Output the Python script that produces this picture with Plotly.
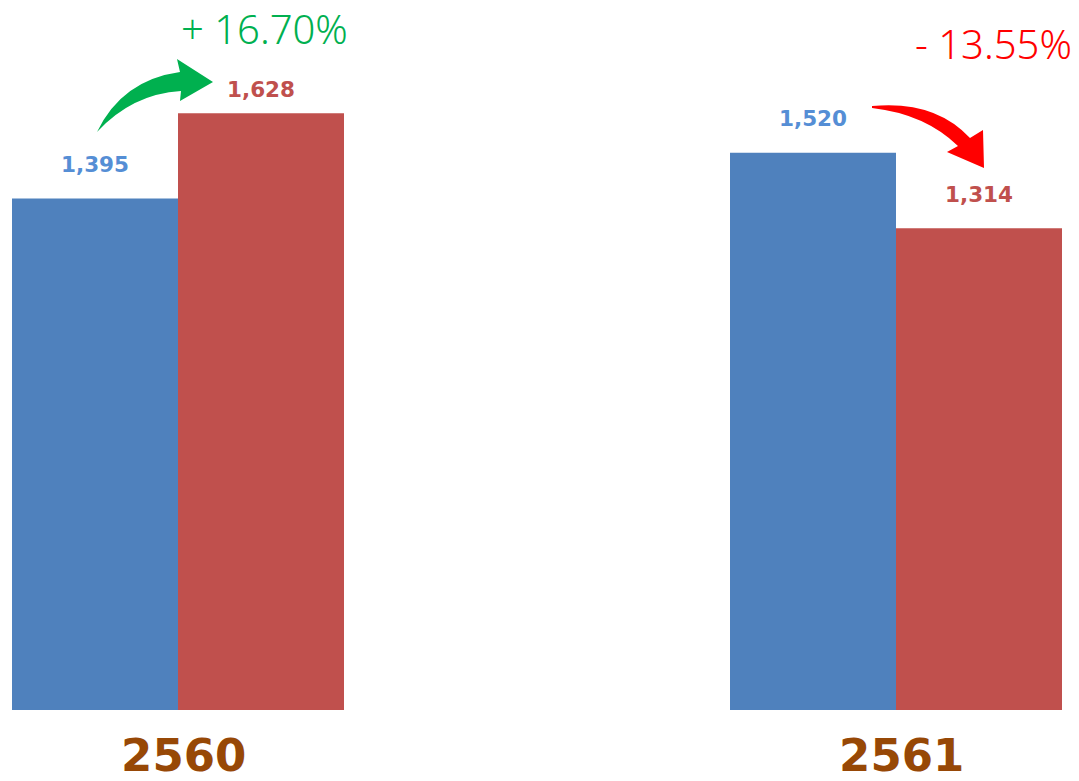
import plotly.graph_objects as go

# ---- data ----
years = ["2560", "2561"]
series_a = [1395, 1520]   # blue
series_b = [1628, 1314]   # red
color_a = "#4F81BD"
color_b = "#C0504D"
label_color_a = "#558ED5"
label_color_b = "#C0504D"
year_color = "#974806"

W, H = 1079, 781
L, R, T, B = 0, 0, 0, 71
PW, PH = W - L - R, H - T - B

# axis geometry (pixels -> data)
group_px = [178, 896]
bar_px = 166
unit_px = group_px[1] - group_px[0]
bw = bar_px / unit_px
x0 = -(group_px[0] - L) / unit_px
x1 = x0 + PW / unit_px
ymax = PH / 0.3666

xs = list(range(len(years)))

fig = go.Figure()
fig.add_trace(go.Bar(x=xs, y=series_a, width=bw, offset=-bw, marker_color=color_a,
                     marker_line_width=0, hoverinfo="skip"))
fig.add_trace(go.Bar(x=xs, y=series_b, width=bw, offset=0, marker_color=color_b,
                     marker_line_width=0, hoverinfo="skip"))

# value labels
shifts_a = [34, 34]
shifts_b = [24, 34]
for i in xs:
    fig.add_annotation(x=i - bw / 2, y=series_a[i], text=f"{series_a[i]:,}", showarrow=False,
                       yshift=shifts_a[i], yanchor="middle",
                       font=dict(family="DejaVu Sans", size=21.5, color=label_color_a, weight="bold"))
    fig.add_annotation(x=i + bw / 2, y=series_b[i], text=f"{series_b[i]:,}", showarrow=False,
                       yshift=shifts_b[i], yanchor="middle",
                       font=dict(family="DejaVu Sans", size=21.5, color=label_color_b, weight="bold"))

# percent change annotations
def px2paper(px, py):
    return (px - L) / PW, 1 - (py - T) / PH

pct_pos = [(264, 29), (993, 43)]
for i in xs:
    ch = (series_b[i] - series_a[i]) / series_a[i] * 100
    txt = f"+ {ch:.2f}%" if ch >= 0 else f"- {abs(ch):.2f}%"
    col = "#00B050" if ch >= 0 else "#FF0000"
    px_, py_ = px2paper(*pct_pos[i])
    fig.add_annotation(xref="paper", yref="paper", x=px_, y=py_, text=txt, showarrow=False,
                       xanchor="center", yanchor="middle",
                       font=dict(family="Noto Sans", size=40, color=col, weight=300))

# curved arrows (decorative)
def path(points_cmds):
    out = []
    for cmd, pts in points_cmds:
        s = cmd
        for (a, b) in pts:
            xp, yp = px2paper(a, b)
            s += f" {xp:.5f},{yp:.5f}"
        out.append(s)
    return " ".join(out) + " Z"

green_arrow = path([
    ("M", [(97, 132)]),
    ("Q", [(122, 80), (180, 72)]),
    ("L", [(177, 59)]),
    ("L", [(213, 82)]),
    ("L", [(180, 101)]),
    ("L", [(181, 91)]),
    ("Q", [(132, 94), (97, 132)]),
])
red_arrow = path([
    ("M", [(872, 106)]),
    ("Q", [(935, 100), (970, 138)]),
    ("L", [(983, 130)]),
    ("L", [(984, 168)]),
    ("L", [(947, 152)]),
    ("L", [(958, 146)]),
    ("Q", [(925, 114), (872, 108)]),
])
fig.add_shape(type="path", xref="paper", yref="paper", path=green_arrow,
              fillcolor="#00B04F", line=dict(width=0))
fig.add_shape(type="path", xref="paper", yref="paper", path=red_arrow,
              fillcolor="#FF0000", line=dict(width=0))

fig.update_layout(
    width=W, height=H,
    margin=dict(l=L, r=R, t=T, b=B, pad=0, autoexpand=False),
    paper_bgcolor="white", plot_bgcolor="white",
    showlegend=False,
    xaxis=dict(range=[x0, x1], tickvals=[x + 0.008 for x in xs], ticktext=years,
               showgrid=False, zeroline=False, automargin=False,
               showline=False, ticks="", ticklabelstandoff=15,
               tickfont=dict(family="DejaVu Sans", size=45, color=year_color, weight="bold")),
    yaxis=dict(range=[0, ymax], visible=False, showgrid=False, zeroline=False, automargin=False),
)

fig.write_html("out.html", config={"displayModeBar": False},
               post_script="document.body.style.margin='0';")
